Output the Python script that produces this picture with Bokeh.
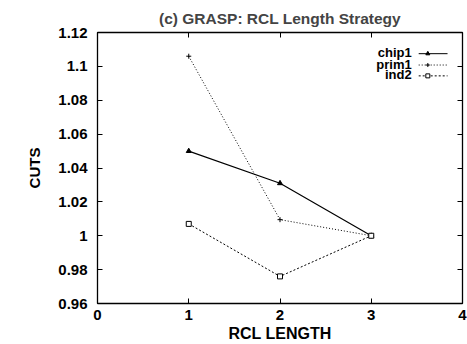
from bokeh.plotting import figure
from bokeh.models import Range1d, LinearAxis, FixedTicker, Label, CustomLabelingPolicy
from bokeh.embed import file_html
from bokeh.resources import INLINE

# ---- data ----
rcl_length = [1, 2, 3]
chip1 = [1.050, 1.031, 1.000]
prim1 = [1.106, 1.0095, 1.000]
ind2 = [1.007, 0.976, 1.000]
series_names = ["chip1", "prim1", "ind2"]
x_ticks = [0, 1, 2, 3, 4]
x_tick_labels = ["0", "1", "2", "3", "4"]
y_ticks = [0.96, 0.98, 1.0, 1.02, 1.04, 1.06, 1.08, 1.1, 1.12]
y_tick_labels = ["0.96", "0.98", "1", "1.02", "1.04", "1.06", "1.08", "1.1", "1.12"]

FONT = "Liberation Sans"

p = figure(width=467, height=344, output_backend="svg", toolbar_location=None,
           x_range=Range1d(0, 4), y_range=Range1d(0.96, 1.12),
           min_border_left=97, min_border_right=4, min_border_top=32, min_border_bottom=38,
           x_axis_label="RCL LENGTH", y_axis_label="CUTS")
p.title.text = "(c) GRASP: RCL Length Strategy"
p.title.align = "center"
p.title.text_font = FONT
p.title.text_font_size = "15.5px"
p.title.text_font_style = "bold"
p.title.offset = 0
p.title.standoff = 3
p.xgrid.visible = False
p.ygrid.visible = False
p.outline_line_color = "black"
p.background_fill_color = "white"
p.border_fill_color = "white"

def style_axis(ax):
    ax.major_tick_in = 5
    ax.major_tick_out = 0
    ax.minor_tick_line_color = None
    ax.axis_line_color = "black"
    ax.axis_line_width = 1.3
    ax.major_tick_line_color = "black"
    ax.major_label_text_font = FONT
    ax.major_label_text_font_style = "bold"
    ax.major_label_text_font_size = "15px"
    ax.major_label_text_color = "black"
    ax.axis_label_text_font = FONT
    ax.axis_label_text_font_style = "bold"
    ax.axis_label_text_font_size = "15px"
    ax.axis_label_text_color = "black"

xa = p.xaxis[0]
xa.ticker = FixedTicker(ticks=x_ticks)
xa.major_label_overrides = {t: l for t, l in zip(x_ticks, x_tick_labels)}
style_axis(xa)
xa.axis_label_text_font_size = "16px"
xa.major_label_standoff = 6
xa.axis_label_standoff = 2

ya = p.yaxis[0]
ya.ticker = FixedTicker(ticks=y_ticks)
ya.major_label_overrides = {t: l for t, l in zip(y_ticks, y_tick_labels)}
style_axis(ya)
ya.major_label_standoff = 10
ya.axis_label_standoff = 12

hide_all = "for (const i of Array.from(indices)) { indices.unset(i) }\nreturn indices"
top = LinearAxis(ticker=FixedTicker(ticks=x_ticks),
                 major_label_policy=CustomLabelingPolicy(code=hide_all))
style_axis(top)
top.major_label_text_font_size = "1px"
top.major_label_standoff = 0
p.add_layout(top, "above")
right = LinearAxis(ticker=FixedTicker(ticks=y_ticks),
                   major_label_policy=CustomLabelingPolicy(code=hide_all))
style_axis(right)
right.major_label_text_font_size = "1px"
right.major_label_standoff = 0
p.add_layout(right, "right")

# ---- series ----
p.line(rcl_length, chip1, line_color="black", line_width=1.2)
p.scatter(rcl_length, chip1, marker="triangle", size=5, color="black")

p.line(rcl_length, prim1, line_color="black", line_width=1.0, line_dash="1 2")
p.scatter(rcl_length, prim1, marker="cross", size=5, line_color="black")

p.line(rcl_length, ind2, line_color="black", line_width=1.0, line_dash="2 2")
p.scatter(rcl_length, ind2, marker="square", size=5, line_color="black", fill_color="white")

# ---- manual legend (label left, sample right, gnuplot style) ----
leg_y = [1.1075, 1.1008, 1.0944]
dashes = ["solid", "1 2", "2 2"]
markers = ["triangle", "cross", "square"]
fills = ["black", None, "white"]
for name, yy, d, m, f in zip(series_names, leg_y, dashes, markers, fills):
    p.add_layout(Label(x=3.443, y=yy, text=name, text_align="right", text_baseline="middle",
                       text_font=FONT, text_font_style="bold", text_font_size="13px",
                       text_color="black", y_offset=1))
    p.segment(x0=[3.52], y0=[yy], x1=[3.836], y1=[yy], line_color="black", line_width=1.0, line_dash=d)
    p.scatter([3.62], [yy], marker=m, size=4, line_color="black", fill_color=f)

open("out.html", "w").write(file_html(p, INLINE))
